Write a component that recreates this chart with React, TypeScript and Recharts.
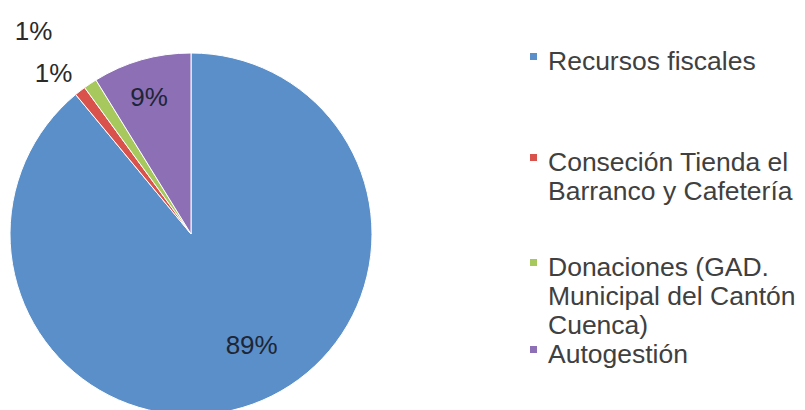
import { PieChart, Pie, Cell, Legend } from "recharts"

const categories = [
  "Recursos fiscales",
  "Conseción Tienda el Barranco y Cafetería",
  "Donaciones (GAD. Municipal del Cantón Cuenca)",
  "Autogestión",
]
const shares = [89.0, 1.0, 1.2, 8.8]
const colors = ["#5b8fc9", "#d9534c", "#a6c85c", "#8d6fb5"]

const data = categories.map((name, i) => ({ name, value: shares[i] }))

const RADIAN = Math.PI / 180
const FONT = "'Liberation Sans', Arial, sans-serif"

// Excel-style label placement: big slices inside, the two thin ones staggered outside
const labelRadius = [0.7, 1.42, 1.17, 0.79]
const labelShift = [8.8, 0, 6.6, 1.2]

function renderLabel(props: any) {
  const { cx, cy, midAngle, outerRadius, percent, index } = props
  const r = outerRadius * labelRadius[index]
  const a = (midAngle + labelShift[index]) * RADIAN
  const x = cx + r * Math.cos(-a)
  const y = cy + r * Math.sin(-a)
  const inside = labelRadius[index] < 1
  return (
    <text
      x={x}
      y={y}
      textAnchor="middle"
      dominantBaseline="central"
      fontFamily={FONT}
      fontSize={26}
      fill={inside ? "#1e2535" : "#2a2a2a"}
    >
      {`${Math.round(percent * 100)}%`}
    </text>
  )
}

const legendTops = [47, 148, 253, 340]

function renderLegend() {
  return (
    <div style={{ position: "relative", width: 805, height: 410 }}>
      {categories.map((name, i) => (
        <div
          key={name}
          style={{
            position: "absolute",
            left: 530,
            top: legendTops[i],
            display: "flex",
            alignItems: "flex-start",
          }}
        >
          <span
            style={{
              display: "inline-block",
              flex: "none",
              width: 7,
              height: 7,
              marginTop: 6,
              marginRight: 11,
              background: colors[i],
            }}
          />
          <span
            style={{
              width: 257,
              fontFamily: FONT,
              fontSize: 26.5,
              lineHeight: "29px",
              color: "#404040",
            }}
          >
            {name}
          </span>
        </div>
      ))}
    </div>
  )
}

export default function App() {
  return (
    <div style={{ width: 805, height: 410, background: "#fff" }}>
      <style>{"body{margin:0}"}</style>
      <PieChart width={805} height={410} margin={{ top: 0, right: 0, bottom: 0, left: 0 }}>
        <Pie
          data={data}
          dataKey="value"
          nameKey="name"
          cx={191}
          cy={234}
          outerRadius={181}
          startAngle={90}
          endAngle={-270}
          stroke="#ffffff"
          strokeWidth={1}
          label={renderLabel}
          labelLine={false}
          isAnimationActive={false}
        >
          {data.map((d, i) => (
            <Cell key={d.name} fill={colors[i]} />
          ))}
        </Pie>
        <Legend
          content={renderLegend}
          wrapperStyle={{ position: "absolute", left: 0, top: 0, width: 805, height: 410 }}
        />
      </PieChart>
    </div>
  )
}
